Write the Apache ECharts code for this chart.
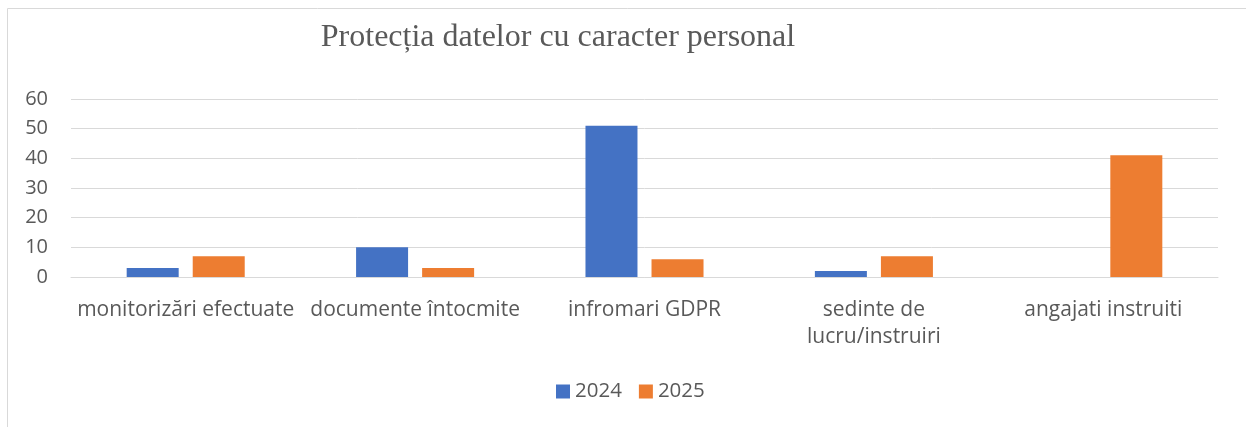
<!DOCTYPE html>
<html>
<head>
<meta charset="utf-8">
<script src="https://cdn.jsdelivr.net/npm/echarts@6/dist/echarts.min.js"></script>
<style>
  html, body { margin: 0; padding: 0; background: #fff; }
  #chart { width: 1246px; height: 427px; }
</style>
</head>
<body>
<div id="chart"></div>
<script>
// date
const categorii = [
  "monitorizări efectuate",
  "documente întocmite",
  "infromari GDPR",
  "sedinte de\nlucru/instruiri",
  "angajati instruiti"
];
const valori2024 = [3, 10, 51, 2, 0];
const valori2025 = [7, 3, 6, 7, 41];
const serii = ["2024", "2025"];

const chart = echarts.init(document.getElementById("chart"));

const option = {
  animation: false,
  title: {
    text: "Protecția datelor cu caracter personal",
    left: 553,
    textAlign: "center",
    top: 17,
    textStyle: {
      fontFamily: "Liberation Serif",
      fontWeight: "normal",
      fontSize: 32,
      color: "#595959"
    }
  },
  graphic: [
    {
      type: "rect",
      shape: { x: 7.5, y: 8.5, width: 1250, height: 430 },
      style: { fill: "none", stroke: "#d9d9d9", lineWidth: 1 }
    }
  ],
  legend: {
    data: serii,
    bottom: 20,
    left: 551,
    itemWidth: 14,
    itemHeight: 14,
    itemGap: 17,
    icon: "rect",
    textStyle: { fontFamily: "Open Sans", fontSize: 20.5, color: "#595959" }
  },
  grid: {
    left: 71,
    right: 28,
    top: 99,
    bottom: 150,
    containLabel: false
  },
  xAxis: {
    type: "category",
    data: categorii,
    axisTick: { show: false },
    axisLine: { lineStyle: { color: "#d9d9d9", width: 1 } },
    axisLabel: {
      interval: 0,
      margin: 20,
      fontFamily: "Open Sans",
      fontSize: 21,
      lineHeight: 27,
      color: "#595959"
    }
  },
  yAxis: {
    type: "value",
    min: 0,
    max: 60,
    interval: 10,
    axisLine: { show: false },
    axisTick: { show: false },
    splitLine: { lineStyle: { color: "#d9d9d9", width: 1 } },
    axisLabel: {
      margin: 23,
      fontFamily: "Open Sans",
      fontSize: 20,
      color: "#595959"
    }
  },
  series: [
    {
      name: serii[0],
      type: "bar",
      data: valori2024,
      barWidth: 52,
      barGap: "27%",
      itemStyle: { color: "#4472c4" }
    },
    {
      name: serii[1],
      type: "bar",
      data: valori2025,
      barWidth: 52,
      itemStyle: { color: "#ed7d31" }
    }
  ]
};

chart.setOption(option);
</script>
</body>
</html>
